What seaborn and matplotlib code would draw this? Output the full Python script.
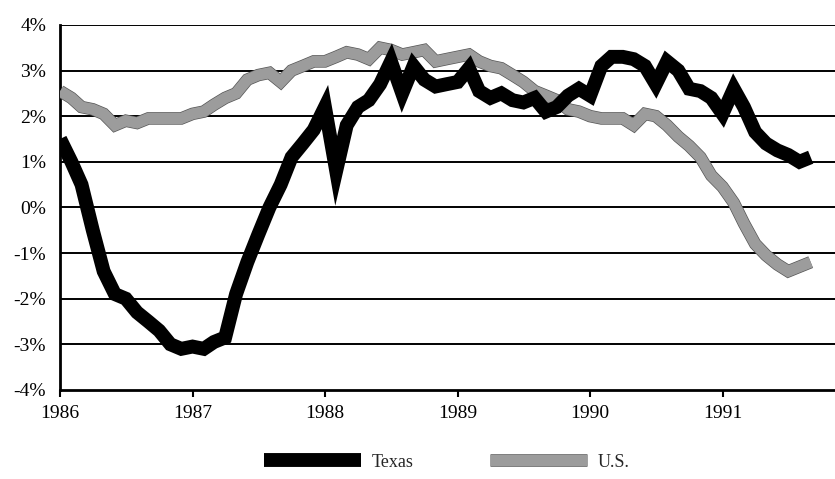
"""Texas vs U.S. employment growth, 1986-1991."""

import matplotlib.dates as mdates
import matplotlib.patheffects as pe
import matplotlib.pyplot as plt
import pandas as pd
import seaborn as sns

months = pd.date_range("1986-01-01", "1991-09-01", freq="MS")

texas = [
    1.5, 1.0, 0.5, -0.5, -1.4, -1.9, -2.0, -2.3, -2.5, -2.7, -3.0, -3.1,
    -3.05, -3.1, -2.95, -2.85, -1.9, -1.2, -0.6, 0.0, 0.5, 1.1, 1.4, 1.7,
    2.2, 0.8, 1.8, 2.2, 2.35, 2.7, 3.2, 2.5, 3.1, 2.8, 2.65, 2.7,
    2.75, 3.05, 2.55, 2.4, 2.5, 2.35, 2.3, 2.4, 2.1, 2.2, 2.45, 2.6,
    2.45, 3.1, 3.3, 3.3, 3.25, 3.1, 2.7, 3.2, 3.0, 2.6, 2.55, 2.4,
    2.05, 2.6, 2.2, 1.65, 1.4, 1.25, 1.15, 1.0, 1.1,
]
us = [
    2.55, 2.4, 2.2, 2.15, 2.05, 1.8, 1.9, 1.85, 1.95, 1.95, 1.95, 1.95,
    2.05, 2.1, 2.25, 2.4, 2.5, 2.8, 2.9, 2.95, 2.75, 3.0, 3.1, 3.2,
    3.2, 3.3, 3.4, 3.35, 3.25, 3.5, 3.45, 3.35, 3.4, 3.45, 3.2, 3.25,
    3.3, 3.35, 3.2, 3.1, 3.05, 2.9, 2.75, 2.55, 2.45, 2.35, 2.15, 2.1,
    2.0, 1.95, 1.95, 1.95, 1.8, 2.05, 2.0, 1.8, 1.55, 1.35, 1.1, 0.7,
    0.45, 0.1, -0.35, -0.8, -1.05, -1.25, -1.4, -1.3, -1.2,
]
y_ticks = [-4, -3, -2, -1, 0, 1, 2, 3, 4]

df = pd.DataFrame({"month": months, "Texas": texas, "U.S.": us})

sns.set_theme(style="white")
plt.rcParams["font.family"] = ["Liberation Serif", "DejaVu Serif"]

fig, ax = plt.subplots(figsize=(8.35, 4.79), dpi=100)
fig.subplots_adjust(left=0.072, right=1.0, top=0.948, bottom=0.186)

for y in y_ticks[1:]:
    ax.axhline(y, color="black", lw=1.4, zorder=1)

sns.lineplot(
    data=df, x="month", y="U.S.", ax=ax, color="#9c9c9c", lw=8,
    label="U.S.", zorder=3, solid_joinstyle="miter", solid_capstyle="butt",
    path_effects=[pe.Stroke(linewidth=9, foreground="#555555"), pe.Normal()],
)
sns.lineplot(
    data=df, x="month", y="Texas", ax=ax, color="black", lw=10,
    label="Texas", zorder=4, solid_joinstyle="miter", solid_capstyle="butt",
)

ax.set_ylim(-4, 4)
ax.set_yticks(y_ticks)
ax.set_yticklabels([f"{v}%" for v in y_ticks])
ax.set_xlim(pd.Timestamp("1986-01-01"), pd.Timestamp("1991-11-07"))
ax.xaxis.set_major_locator(mdates.YearLocator())
ax.xaxis.set_major_formatter(mdates.DateFormatter("%Y"))
ax.set_xlabel("")
ax.set_ylabel("")

for side in ("top", "right"):
    ax.spines[side].set_visible(False)
for side in ("left", "bottom"):
    ax.spines[side].set_color("black")
    ax.spines[side].set_linewidth(2)

ax.tick_params(axis="y", length=0, pad=10, labelsize=14, colors="black")
ax.tick_params(axis="x", length=5, width=1.5, direction="out", bottom=True,
               pad=6, labelsize=14, colors="black")

handles, labels = ax.get_legend_handles_labels()
ax.legend_.remove()
order = [labels.index("Texas"), labels.index("U.S.")]
fig.legend(
    [handles[i] for i in order], [labels[i] for i in order],
    loc="center", bbox_to_anchor=(0.535, 0.035), ncol=2, frameon=False,
    handlelength=5.4, columnspacing=4.2, handletextpad=0.6,
    prop={"size": 13},
)

fig.savefig("out.png", dpi=100)
